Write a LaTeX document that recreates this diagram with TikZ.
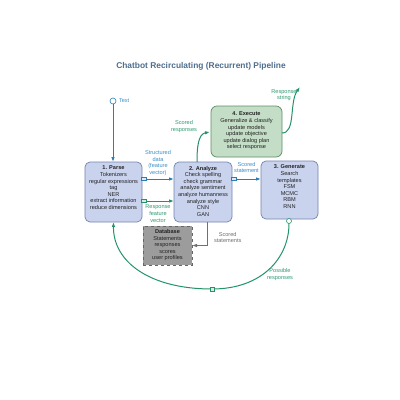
\documentclass[tikz,border=0pt]{standalone}
\usepackage{fontspec}
\setmainfont{Liberation Sans}
\usetikzlibrary{arrows.meta}
\definecolor{boxfill}{HTML}{C9D3EE}
\definecolor{boxline}{HTML}{7384AE}
\definecolor{exfill}{HTML}{C4DDC6}
\definecolor{exline}{HTML}{5E8E64}
\definecolor{dbfill}{HTML}{9C9C9C}
\definecolor{dbline}{HTML}{666666}
\definecolor{titlecol}{HTML}{4F6E8E}
\definecolor{bluec}{HTML}{2B7DB5}
\definecolor{bluelab}{HTML}{3C8FC8}
\definecolor{greenc}{HTML}{23946A}
\definecolor{greenlab}{HTML}{2E9B70}
\definecolor{grayc}{HTML}{707070}
\definecolor{txtc}{HTML}{222222}
\definecolor{sqblue}{HTML}{DCEAF5}
\definecolor{sqgreen}{HTML}{D6EDDD}
\begin{document}
\begin{tikzpicture}[x=1pt,y=-1pt,
  every node/.style={font=\fontsize{5.6}{6.6}\selectfont, inner sep=0pt, outer sep=0pt},
  titlestyle/.style={font=\fontsize{8.4}{10}\selectfont\bfseries, text=titlecol},
  bluebox/.style={draw=boxline, fill=boxfill, line width=0.7pt, rounded corners=5pt},
  greenbox/.style={draw=exline, fill=exfill, line width=0.7pt, rounded corners=6pt},
  dbbox/.style={draw=dbline, fill=dbfill, line width=0.6pt, dashed},
  boxtext/.style={align=center, text=txtc},
  lab/.style={align=center},
  tip/.style={-{Latex[length=5pt,width=3.6pt]}},
  bluearr/.style={draw=bluec, line width=1pt, tip},
  greenarr/.style={draw=greenc, line width=1pt, tip},
  grayarr/.style={draw=grayc, line width=1pt, tip},
  opencirc/.style={circle, draw, fill=white, minimum size=6pt, line width=0.6pt},
  sqmark/.style={rectangle, draw, minimum width=5pt, minimum height=3pt, line width=0.5pt},
]
\useasboundingbox[fill=white] (0,0) rectangle (400,400);

\node[titlestyle] (title) at (201,66) {Chatbot Recirculating (Recurrent) Pipeline};

% boxes
\node[bluebox, minimum width=57pt, minimum height=60pt] (parse) at (113.5,192) {};
\node[boxtext, anchor=north] (parsetxt) at ([yshift=-4pt]parse.north) {\textbf{1. Parse}\\Tokenizers\\regular expressions\\tag\\NER\\extract information\\reduce dimensions};

\node[bluebox, minimum width=58pt, minimum height=60pt] (analyze) at (203,192) {};
\node[boxtext, anchor=north] (analyzetxt) at ([yshift=-4pt]analyze.north) {\textbf{2. Analyze}\\Check spelling\\check grammar\\analyze sentiment\\analyze humanness\\analyze style\\CNN\\GAN};

\node[bluebox, minimum width=57pt, minimum height=58pt] (generate) at (289.5,190) {};
\node[boxtext, anchor=north] (generatetxt) at ([yshift=-4pt]generate.north) {\textbf{3. Generate}\\Search\\templates\\FSM\\MCMC\\RBM\\RNN};

\node[greenbox, minimum width=71pt, minimum height=51pt] (execute) at (246.5,131.5) {};
\node[boxtext, anchor=north] (executetxt) at ([yshift=-6pt]execute.north) {\textbf{4. Execute}\\Generalize \& classify\\update models\\update objective\\update dialog plan\\select response};

\node[dbbox, minimum width=49pt, minimum height=39pt] (db) at (167.5,245.5) {};
\node[boxtext, anchor=north] (dbtxt) at ([yshift=-3.5pt]db.north) {\textbf{Database}\\Statements\\responses\\scores\\user profiles};

% text input
\node[opencirc, draw=bluec] (textc) at (113,101) {};
\node[lab, anchor=west, text=bluelab] (textlab) at (119,101) {Text};
\draw[bluearr] (textc.south) -- (textc.south |- parse.north);

% parse -> analyze
\node[sqmark, draw=bluec, fill=sqblue] (sq1) at ([xshift=2pt]parse.east |- 0,179) {};
\draw[bluearr] (sq1) -- (sq1 -| analyze.west);
\node[lab, text=bluelab] (sdlab) at (158,163) {Structured\\data\\(feature\\vector)};

\node[sqmark, draw=greenc, fill=sqgreen] (sq2) at ([xshift=2pt]parse.east |- 0,201) {};
\draw[greenarr] (sq2) -- (sq2 -| analyze.west);
\node[lab, text=greenlab] (rflab) at (158,213.5) {Response\\feature\\vector};

% analyze -> generate
\node[sqmark, draw=bluec, fill=sqblue] (sq3) at ([xshift=2pt]analyze.east |- 0,179) {};
\draw[bluearr] (sq3) -- (sq3 -| generate.west);
\node[lab, text=bluelab] (sslab) at (246.5,167.5) {Scored\\statement};

% analyze -> database
\draw[grayarr] ([xshift=4pt]analyze.south) |- (db.east);
\node[lab, anchor=west, text=grayc] (sstlab) at (214,237.5) {Scored\\statements};

% analyze -> execute
\coordinate (exin) at (210,132);
\draw[greenarr] ([xshift=-6pt]analyze.north) .. controls (197,148) and (198,134) .. (exin);
\node[lab, text=greenlab] (srlab) at (184,126.5) {Scored\\responses};

% execute -> out
\coordinate (exout) at (300,87);
\draw[greenarr] (execute.east |- 0,133) .. controls (296,133) and (289,102) .. (exout);
\node[lab, text=greenlab] (rslab) at (284,95) {Response\\string};

% generate -> parse loop
\node[opencirc, draw=greenc, minimum size=5pt] (genc) at (289,221) {};
\coordinate (bot) at (212,289);
\draw[greenarr] (genc) .. controls (289,258) and (262,289) .. (bot) .. controls (150,289) and (113,262) .. (parse.south);
\node[rectangle, draw=greenc, fill=sqgreen, minimum size=4.5pt, line width=0.5pt] (botsq) at (bot) {};
\node[lab, text=greenlab] (prlab) at (280,274.5) {Possible\\responses};
\end{tikzpicture}
\end{document}
